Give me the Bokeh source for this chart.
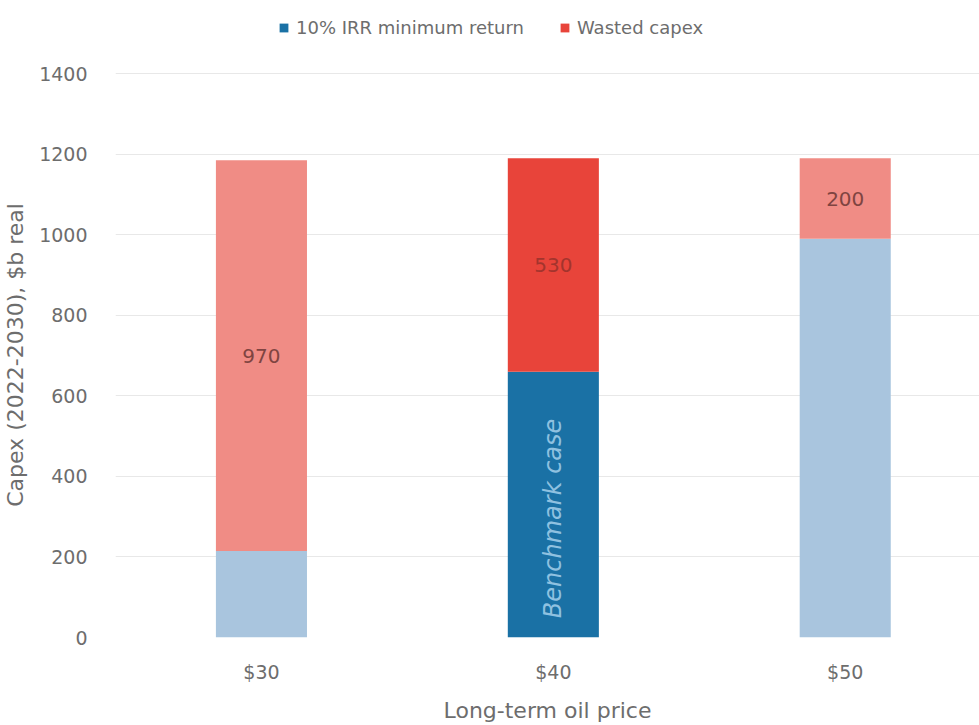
import math

from bokeh.core.properties import value
from bokeh.embed import file_html
from bokeh.layouts import column
from bokeh.models import ColumnDataSource, FixedTicker, Legend, LegendItem
from bokeh.plotting import figure
from bokeh.resources import INLINE

# Long-term oil price scenarios and capex split, $b real (2022-2030)
prices = ["$30", "$40", "$50"]
min_return = [215, 660, 990]
wasted = [970, 530, 200]
y_ticks = [0, 200, 400, 600, 800, 1000, 1200, 1400]
series_names = ["10% IRR minimum return", "Wasted capex"]

FONT = "DejaVu Sans"
GREY = "#6d6d6d"
BLUE, BLUE_LIGHT = "#1a71a5", "#a9c5de"
RED, RED_LIGHT = "#e8443a", "#f08c85"

xs = list(range(len(prices)))
tops = [a + b for a, b in zip(min_return, wasted)]
# the $40 case is the benchmark and is drawn in full colour
bench = 1

base_src = ColumnDataSource(dict(
    x=xs, bottom=[0] * len(xs), top=min_return,
    color=[BLUE if i == bench else BLUE_LIGHT for i in xs],
))
waste_src = ColumnDataSource(dict(
    x=xs, bottom=min_return, top=tops,
    color=[RED if i == bench else RED_LIGHT for i in xs],
))
label_src = ColumnDataSource(dict(
    x=xs,
    y=[b + w / 2 for b, w in zip(min_return, wasted)],
    text=[str(w) for w in wasted],
    color=["#a3342d" if i == bench else "#7f4441" for i in xs],
))

p = figure(
    width=979, height=663,
    x_range=(-0.5, 2.46), y_range=(0, 1403),
    output_backend="svg", toolbar_location=None,
    min_border_left=115, min_border_right=0,
    min_border_top=10, min_border_bottom=80,
)
p.outline_line_color = None
p.background_fill_color = "white"
p.border_fill_color = "white"

w = 0.312
p.vbar(x="x", bottom="bottom", top="top", width=w,
       fill_color="color", line_color=None, source=base_src)
p.vbar(x="x", bottom="bottom", top="top", width=w,
       fill_color="color", line_color=None, source=waste_src)

p.text(x="x", y="y", text="text", text_color="color", source=label_src,
       text_align="center", text_baseline="middle",
       text_font=value(FONT), text_font_size="20px")

# benchmark annotation inside the $40 bar
p.text(x=[bench], y=[48], text=["Benchmark case"], angle=math.pi / 2,
       text_align="left", text_baseline="middle",
       text_color="#8fc1e0", text_font=value(FONT),
       text_font_size="24px", text_font_style="italic")

# axes
p.yaxis.ticker = FixedTicker(ticks=y_ticks)
p.xaxis.ticker = FixedTicker(ticks=xs)
p.xaxis.major_label_overrides = {i: s for i, s in zip(xs, prices)}

for ax in (p.xaxis[0], p.yaxis[0]):
    ax.axis_line_color = None
    ax.major_tick_line_color = None
    ax.minor_tick_line_color = None
    ax.major_label_text_color = GREY
    ax.major_label_text_font = FONT
    ax.major_label_text_font_size = "19px"
    ax.axis_label_text_color = GREY
    ax.axis_label_text_font = FONT
    ax.axis_label_text_font_style = "normal"
    ax.axis_label_text_font_size = "22px"

p.yaxis.axis_label = "Capex (2022-2030), $b real"
p.yaxis.major_label_standoff = 22
p.yaxis.axis_label_standoff = 8
p.xaxis.axis_label = "Long-term oil price"
p.xaxis.major_label_standoff = 17
p.xaxis.axis_label_standoff = 12

p.xgrid.grid_line_color = None
p.ygrid.grid_line_color = "#e8e8e8"
p.ygrid.grid_line_width = 1

# legend strip above the chart; its frame lines up with the chart's frame
head = figure(
    width=979, height=62, x_range=(0, 1), y_range=(0, 1),
    x_axis_location=None, y_axis_location=None,
    output_backend="svg", toolbar_location=None,
    min_border=0,
)
head.xgrid.grid_line_color = None
head.ygrid.grid_line_color = None
head.outline_line_color = None
head.background_fill_color = "white"
head.border_fill_color = "white"
# zero-height swatches: only their legend entries are visible
r_blue = head.vbar(x=[0.5], bottom=[0], top=[0], width=0.01,
                   fill_color=BLUE, line_color=None)
r_red = head.vbar(x=[0.5], bottom=[0], top=[0], width=0.01,
                  fill_color=RED, line_color=None)

legend = Legend(
    items=[
        LegendItem(label=series_names[0], renderers=[r_blue]),
        LegendItem(label=series_names[1], renderers=[r_red]),
    ],
    orientation="horizontal", location=(163, 24),
    border_line_color=None, background_fill_alpha=0,
    label_text_font=FONT, label_text_font_size="18px",
    label_text_color=GREY, glyph_width=11, glyph_height=11,
    spacing=35, label_standoff=7, margin=0, padding=4,
)
head.add_layout(legend, "center")

page = column(head, p, spacing=0)
open("out.html", "w").write(file_html(page, INLINE))
